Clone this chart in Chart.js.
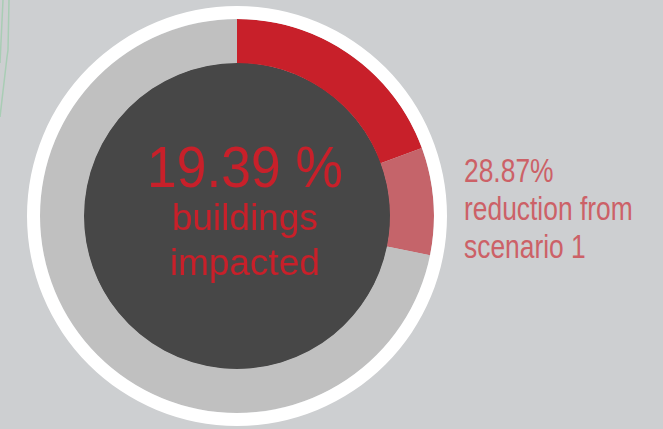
<!DOCTYPE html>
<html>
<head>
<meta charset="utf-8">
<script src="https://cdn.jsdelivr.net/npm/chart.js@4/dist/chart.umd.min.js"></script>
<style>
  html, body { margin: 0; padding: 0; }
  body { width: 663px; height: 429px; background: #cdcfd1; position: relative; overflow: hidden; font-family: "Liberation Sans", Arial, sans-serif; }
  #mapLines { position: absolute; left: 0; top: 0; }
  #ringBox { position: absolute; left: 27px; top: 6px; width: 420px; height: 420px; }
  .line { position: absolute; white-space: nowrap; line-height: 1; }
  .center { left: 95px; width: 300px; text-align: center; color: #c8202a; }
  .big { font-size: 58px; top: 138px; transform: scaleX(0.92); transform-origin: 150px 0; }
  .sub { font-size: 37px; }
  .side { left: 464px; color: #cc6167; font-size: 33px; transform: scaleX(0.8); transform-origin: 0 0; }
</style>
</head>
<body>
<svg id="mapLines" width="20" height="130">
  <polyline points="9,0 8,50 7,57 0,117" fill="none" stroke="#a9cdb5" stroke-width="1.5"/>
  <polyline points="3,0 0,63" fill="none" stroke="#a9cdb5" stroke-width="1.5"/>
</svg>
<div id="ringBox"><canvas id="impactChart" width="420" height="420"></canvas></div>
<div class="line center big">19.39 %</div>
<div class="line center sub" style="top:199px">buildings</div>
<div class="line center sub" style="top:244px">impacted</div>
<div class="line side" style="top:154px">28.87%</div>
<div class="line side" style="top:192px">reduction from</div>
<div class="line side" style="top:230px">scenario 1</div>
<script>
  // share of buildings, in percent, clockwise from 12 o'clock
  var segmentLabels = ["impacted", "reduction from scenario 1", "not impacted"];
  var segmentValues = [19.39, 8.8, 71.81];
  var segmentColors = ["#c8202a", "#c5646a", "#c0c0c0"];
  var frameValues = [100];

  var darkCenter = {
    id: "darkCenter",
    beforeDatasetsDraw(chart) {
      const arc = chart.getDatasetMeta(1).data[0];
      if (!arc) return;
      const ctx = chart.ctx;
      ctx.save();
      ctx.beginPath();
      ctx.arc(arc.x, arc.y, arc.innerRadius + 0.5, 0, Math.PI * 2);
      ctx.fillStyle = "#474747";
      ctx.fill();
      ctx.restore();
    }
  };

  new Chart(document.getElementById("impactChart"), {
    type: "doughnut",
    data: {
      labels: segmentLabels,
      datasets: [
        { data: frameValues, backgroundColor: ["#ffffff"], borderWidth: 0, weight: 13 },
        { data: segmentValues, backgroundColor: segmentColors, borderWidth: 0, weight: 44 }
      ]
    },
    options: {
      responsive: false,
      animation: false,
      cutout: "72.86%",
      hoverOffset: 0,
      layout: { padding: 0 },
      events: [],
      plugins: { legend: { display: false }, tooltip: { enabled: false } }
    },
    plugins: [darkCenter]
  });
</script>
</body>
</html>
